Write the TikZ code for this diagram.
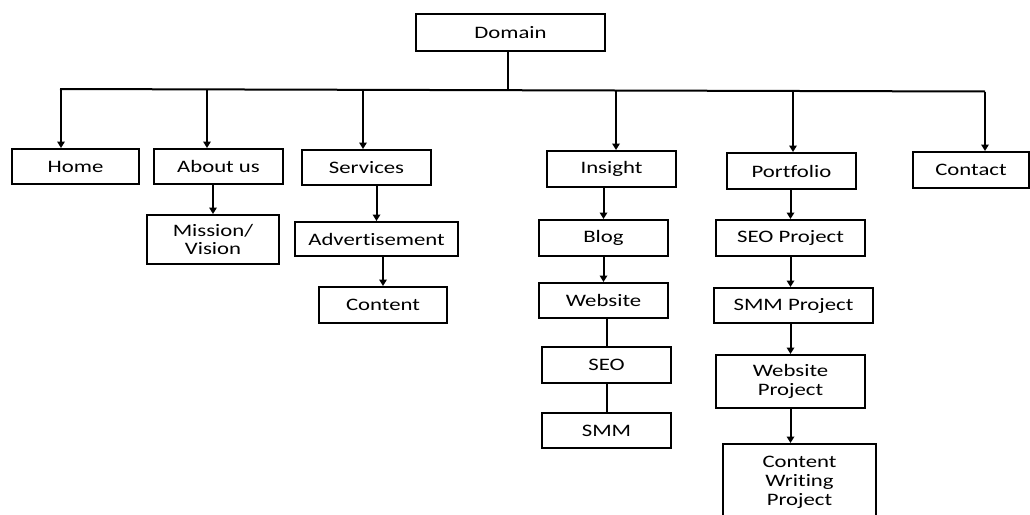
\documentclass[tikz,border=0pt]{standalone}
\usepackage{fontspec}
\setmainfont{Carlito}[FakeStretch=1.3, Ligatures=NoCommon]
\usetikzlibrary{arrows.meta}
\tikzset{
  box/.style={draw, line width=2pt, inner sep=0pt, align=center,
              font=\fontsize{17.5}{18.8}\selectfont},
  link/.style={line width=2pt},
  arrow/.style={link, -{Triangle[length=6.5pt,width=7.5pt]}},
}
\begin{document}
\begin{tikzpicture}[x=1pt, y=-1pt]
  \clip (0,0) rectangle (1030,514);
  % root
  \node[box, minimum width=189pt, minimum height=37pt] (domain) at (510.5,32.5) {Domain};
  % first level
  \node[box, minimum width=127pt, minimum height=35pt] (home)      at (75.5,166.5)  {Home};
  \node[box, minimum width=129pt, minimum height=35pt] (about)     at (218.5,166.5) {About us};
  \node[box, minimum width=129pt, minimum height=35pt] (services)  at (366.5,167.5) {Services};
  \node[box, minimum width=129pt, minimum height=36pt] (insight)   at (611.5,169)   {Insight};
  \node[box, minimum width=129pt, minimum height=36pt] (portfolio) at (791.5,171)   {Portfolio};
  \node[box, minimum width=116pt, minimum height=36pt] (contact)   at (971,170)     {Contact};
  % about us
  \node[box, minimum width=132pt, minimum height=49pt] (mission) at (213,239.5) {Mission/\\Vision};
  % services
  \node[box, minimum width=163pt, minimum height=34pt] (advert)  at (376.5,239) {Advertisement};
  \node[box, minimum width=128pt, minimum height=36pt] (content) at (383,305)   {Content};
  % insight
  \node[box, minimum width=129pt, minimum height=36pt] (blog)    at (603.5,238)   {Blog};
  \node[box, minimum width=129pt, minimum height=35pt] (website) at (603.5,300.5) {Website};
  \node[box, minimum width=129pt, minimum height=36pt] (seo)     at (606.5,365)   {SEO};
  \node[box, minimum width=129pt, minimum height=35pt] (smm)     at (606.5,430.5) {SMM};
  % portfolio
  \node[box, minimum width=149pt, minimum height=36pt] (seop) at (790.5,238)   {SEO Project};
  \node[box, minimum width=159pt, minimum height=35pt] (smmp) at (793.5,305.5) {SMM Project};
  \node[box, minimum width=149pt, minimum height=53pt] (webp) at (790.5,381.5) {Website\\Project};
  \node[box, minimum width=153pt, minimum height=74pt, text depth=0pt] (cwp) at (799.5,481) {Content\\Writing\\Project};

  % bus under the root
  \coordinate (busL) at (60,89);
  \coordinate (busR) at (985,91.5);
  \coordinate (tHome) at (61,89);
  \coordinate (tAbout) at (207,89.5);
  \coordinate (tServ) at (363,90);
  \coordinate (tIns) at (616,91);
  \coordinate (tPort) at (793,91);
  \draw[link] (domain.south -| 508,0) -- (508,90.5);
  \draw[link] (busL) -- (busR);
  \draw[arrow] (tHome) -- (tHome |- home.north);
  \draw[arrow] (tAbout) -- (tAbout |- about.north);
  \draw[arrow] (tServ) -- (tServ |- services.north);
  \draw[arrow] (tIns) -- (tIns |- insight.north);
  \draw[arrow] (tPort) -- (tPort |- portfolio.north);
  \draw[arrow] (busR) -- (busR |- contact.north);

  % second level
  \draw[arrow] (about.south -| mission.north) -- (mission.north);
  \draw[arrow] (services.south -| advert.north) -- (advert.north);
  \draw[arrow] (advert.south -| content.north) -- (content.north);
  \draw[arrow] (insight.south -| blog.north) -- (blog.north);
  \draw[arrow] (blog.south) -- (website.north);
  \draw[link] (website.south -| seo.north) -- (seo.north);
  \draw[link] (seo.south) -- (smm.north);
  \draw[arrow] (portfolio.south -| seop.north) -- (seop.north);
  \draw[arrow] (seop.south) -- (seop.south |- smmp.north);
  \draw[arrow] (smmp.south -| webp.north) -- (webp.north);
  \draw[arrow] (webp.south) -- (webp.south |- cwp.north);
\end{tikzpicture}
\end{document}
